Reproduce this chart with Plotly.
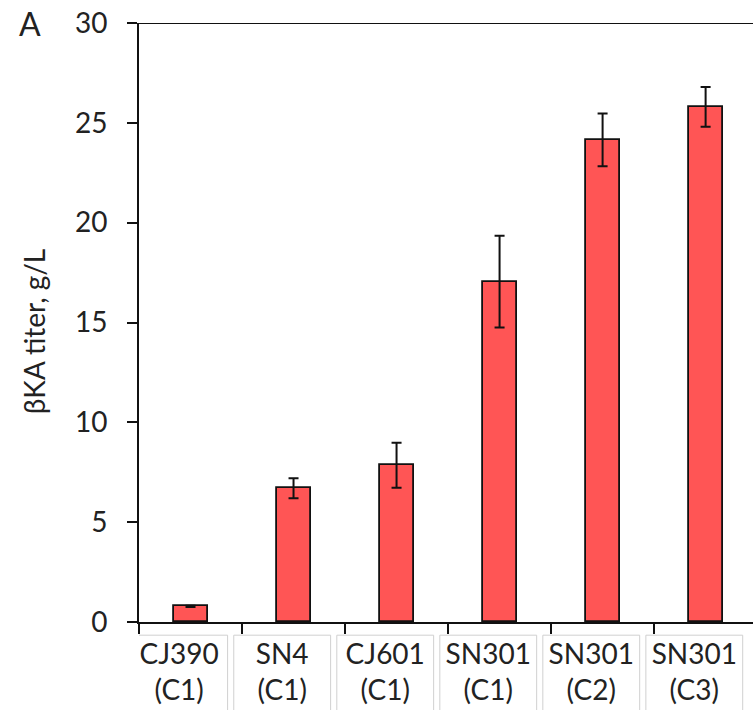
import plotly.graph_objects as go

categories = ["CJ390<br>(C1)", "SN4<br>(C1)", "CJ601<br>(C1)", "SN301<br>(C1)", "SN301<br>(C2)", "SN301<br>(C3)"]
titer = [0.78, 6.7, 7.85, 17.05, 24.15, 25.8]
titer_err = [0.03, 0.5, 1.13, 2.3, 1.32, 1.0]
y_ticks = [0, 5, 10, 15, 20, 25, 30]

FONT = "Lato"
TXT = "#222222"
n = len(categories)

fig = go.Figure()
fig.add_trace(go.Bar(
    x=list(range(n)),
    y=titer,
    width=0.33,
    marker=dict(color="#FF5555", line=dict(color="#111111", width=1.8)),
    error_y=dict(type="data", array=titer_err, visible=True, color="#111111", thickness=2, width=5),
))

label_offset = -0.11
shapes = []
shapes.append(dict(type="line", xref="paper", yref="y", x0=0, x1=1, y0=30, y1=30,
                   line=dict(color="#111111", width=2)))
for i in range(n):
    shapes.append(dict(type="rect", xref="x", yref="paper",
                       x0=i + label_offset - 0.47, x1=i + label_offset + 0.47,
                       y0=-0.022, y1=-0.17, line=dict(color="#d0d0d0", width=1), layer="below"))

fig.update_layout(
    width=753, height=710,
    margin=dict(l=139, r=0, t=23, b=88),
    paper_bgcolor="white", plot_bgcolor="white",
    showlegend=False,
    font=dict(family=FONT, color=TXT, size=28),
    shapes=shapes,
    annotations=[
        dict(text="A", xref="paper", yref="paper", x=-0.178, y=1.0, xanchor="center",
             yanchor="middle", showarrow=False, font=dict(size=32, family=FONT, color=TXT)),
        dict(text="βKA titer, g/L", xref="paper", yref="paper", x=-0.172, y=0.486,
             xanchor="center", yanchor="middle", textangle=-90, showarrow=False,
             font=dict(size=28, family=FONT, color=TXT)),
    ],
    bargap=0,
)
fig.update_xaxes(
    range=[-0.5, 5.46],
    tickmode="array", tickvals=[i + label_offset for i in range(n)], ticktext=categories,
    showline=True, linecolor="#111111", linewidth=2,
    ticks="", showgrid=False, zeroline=False,
    ticklabelstandoff=6,
    tickfont=dict(size=28, family=FONT, color=TXT),
)
fig.update_xaxes(minor=dict(tickmode="array", tickvals=[i - 0.5 for i in range(n)],
                            ticks="outside", ticklen=10, tickwidth=2, tickcolor="#111111"))
fig.update_yaxes(
    range=[0, 30], tickvals=y_ticks,
    showline=True, linecolor="#111111", linewidth=2,
    ticks="outside", ticklen=10, tickwidth=2, tickcolor="#111111",
    ticklabelstandoff=14,
    showgrid=False, zeroline=False,
    tickfont=dict(size=28, family=FONT, color=TXT),
)

fig.write_html("out.html")
